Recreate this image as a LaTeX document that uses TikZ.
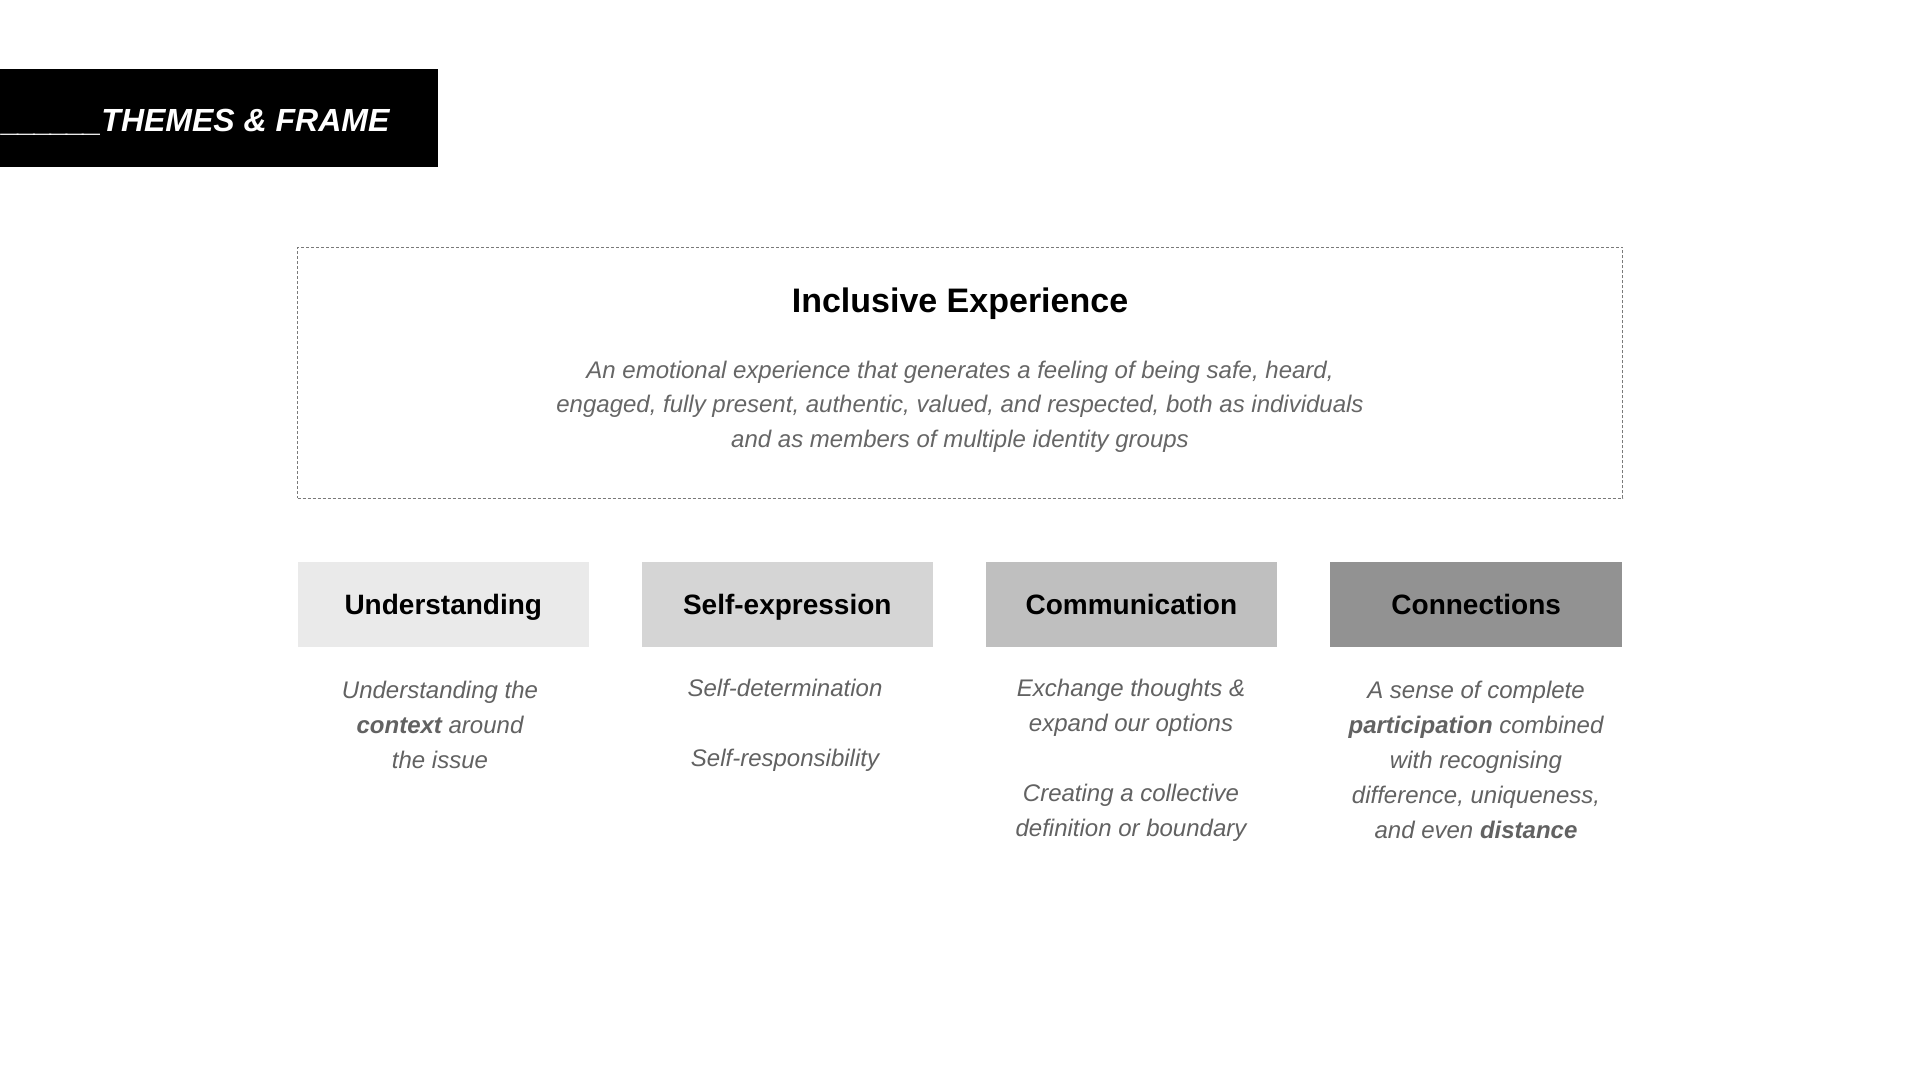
\documentclass[tikz,border=0pt]{standalone}
\usepackage{fontspec}
\setmainfont{Liberation Sans}
\definecolor{subgray}{HTML}{626262}
\definecolor{descgray}{HTML}{666666}
\definecolor{dashgray}{HTML}{7A7A7A}
\definecolor{fillA}{HTML}{EAEAEA}
\definecolor{fillB}{HTML}{D5D5D5}
\definecolor{fillC}{HTML}{BFBFBF}
\definecolor{fillD}{HTML}{929292}
\tikzset{
  themebox/.style={minimum width=291.5pt, minimum height=84.5pt, inner sep=0pt, draw=none,
    text height=20pt, text depth=0pt,
    font=\fontsize{28}{34}\selectfont\bfseries, text=black},
  subtext/.style={align=center, inner sep=0pt, text=subgray,
    font=\fontsize{24}{35}\selectfont\itshape},
}
\begin{document}
\begin{tikzpicture}[x=1pt,y=-1pt]
\useasboundingbox (0,0) rectangle (1920,1080);
\fill[white] (0,0) rectangle (1920,1080);

% header
\node[fill=black, minimum width=438pt, minimum height=98pt, inner sep=0pt, anchor=north west] (hdr) at (0,69) {};
\node[anchor=base west, inner sep=0pt, text=white, font=\fontsize{32}{36}\selectfont\bfseries\itshape] (hdrtext) at (2,131) {\_\kern-1.5pt\_\kern-1.5pt\_\kern-1.5pt\_\kern-1.5pt\_\kern-1.5pt\_THEMES \& FRAME};

% dashed frame
\node[draw=dashgray, line width=1.6pt, dash pattern=on 3pt off 2pt, minimum width=1325pt, minimum height=251pt, inner sep=0pt] (frame) at (960,372.9) {};
\node[inner sep=0pt, font=\fontsize{34}{40}\selectfont\bfseries] (ttl) at (960,303.5) {Inclusive Experience};
\node[align=center, inner sep=0pt, text=descgray, font=\fontsize{24}{34.3}\selectfont\itshape] (desc) at (960,406.5) {An emotional experience that generates a feeling of being safe, heard,\\engaged, fully present, authentic, valued, and respected, both as individuals\\and as members of multiple identity groups};

% theme boxes
\node[themebox, fill=fillA] (b1) at (443.3,604.3) {Understanding};
\node[themebox, fill=fillB] (b2) at (787.3,604.3) {Self-expression};
\node[themebox, fill=fillC] (b3) at (1131.4,604.3) {Communication};
\node[themebox, fill=fillD] (b4) at (1476.2,604.3) {Connections};

% sub texts
\node[subtext] (s1) at (440,725) {Understanding the\\\textbf{context} around\\the issue};
\node[subtext] (s2) at (785,725) {Self-determination\\[35pt]Self-responsibility};
\node[subtext] (s3) at (1131,760) {Exchange thoughts \&\\expand our options\\[35pt]Creating a collective\\definition or boundary};
\node[subtext] (s4) at (1476,760) {A sense of complete\\\textbf{participation} combined\\with recognising\\difference, uniqueness,\\and even \textbf{distance}};
\end{tikzpicture}
\end{document}
